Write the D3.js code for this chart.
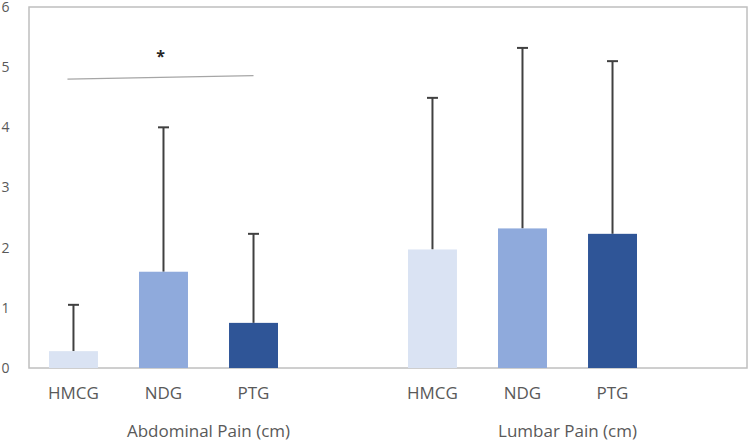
<!DOCTYPE html>
<html><head><meta charset="utf-8">
<script src="https://cdn.jsdelivr.net/npm/d3@7"></script>
<style>body{margin:0;background:#fff}svg{display:block}</style>
</head><body>
<script>
const categories = ["Abdominal Pain (cm)", "Lumbar Pain (cm)"];
const series = ["HMCG", "NDG", "PTG"];
const means = {
  "Abdominal Pain (cm)": [0.28, 1.60, 0.75],
  "Lumbar Pain (cm)": [1.97, 2.32, 2.23]
};
const errors = {
  "Abdominal Pain (cm)": [0.77, 2.40, 1.48],
  "Lumbar Pain (cm)": [2.52, 3.00, 2.87]
};
const colors = ["#dae3f3", "#8faadc", "#2f5597"];
const yTicks = [0, 1, 2, 3, 4, 5, 6];
const sigLine = {from: "HMCG", to: "PTG", y0: 4.80, y1: 4.86, label: "*", labelY: 5.24};

(function() {
const W = 749, H = 441;
const mLeft = 29, mRight = 747, mTop = 7, mBottom = 368;
const svg = d3.select("body").append("svg").attr("width", W).attr("height", H);
const font = "'Open Sans', 'Noto Sans', sans-serif";

const y = d3.scaleLinear().domain([0, 6]).range([mBottom, mTop]);
const x0 = d3.scaleBand().domain(categories).range([mLeft, mRight]).padding(0);
const x1 = d3.scaleBand().domain([...series, "_"]).range([0, x0.bandwidth()])
  .paddingInner(0.456).paddingOuter(0.222);

// frame
svg.append("rect").attr("x", mLeft).attr("y", mTop).attr("width", mRight - mLeft).attr("height", mBottom - mTop)
  .attr("fill", "none").attr("stroke", "#bfbfbf").attr("stroke-width", 1.5);

// y axis labels
const yAxis = d3.axisLeft(y).tickValues(yTicks).tickFormat(d3.format("d")).tickSize(0).tickPadding(0);
const gy = svg.append("g").attr("transform", `translate(${9.5},0)`).call(yAxis);
gy.select(".domain").remove();
gy.selectAll("text").attr("font-family", font).attr("font-size", 14).attr("fill", "#595959");

const groups = svg.selectAll("g.cat").data(categories).join("g").attr("class", "cat")
  .attr("transform", d => `translate(${x0(d)},0)`);

groups.each(function(cat) {
  const g = d3.select(this);
  series.forEach((s, i) => {
    const v = means[cat][i], e = errors[cat][i];
    const bx = x1(s), bw = x1.bandwidth(), cx = bx + bw / 2;
    g.append("line").attr("x1", cx).attr("x2", cx).attr("y1", y(v)).attr("y2", y(v + e))
      .attr("stroke", "#404040").attr("stroke-width", 2);
    g.append("line").attr("x1", cx - 5.5).attr("x2", cx + 5.5).attr("y1", y(v + e)).attr("y2", y(v + e))
      .attr("stroke", "#404040").attr("stroke-width", 2);
    g.append("rect").attr("x", bx).attr("width", bw).attr("y", y(v)).attr("height", y(0) - y(v))
      .attr("fill", colors[i]);
    g.append("text").attr("x", cx).attr("y", 399).attr("text-anchor", "middle")
      .attr("font-family", font).attr("font-size", 17).attr("fill", "#595959").text(s);
  });
  g.append("text").attr("x", x0.bandwidth() / 2).attr("y", 437).attr("text-anchor", "middle")
    .attr("font-family", font).attr("font-size", 17).attr("fill", "#595959").text(cat);
});

// significance marker
const c0 = categories[0];
const sx0 = x0(c0) + x1(sigLine.from) + x1.bandwidth() / 2 - 6;
const sx1 = x0(c0) + x1(sigLine.to) + x1.bandwidth() / 2;
svg.append("line").attr("x1", sx0).attr("x2", sx1).attr("y1", y(sigLine.y0)).attr("y2", y(sigLine.y1))
  .attr("stroke", "#a6a6a6").attr("stroke-width", 1.2);
svg.append("text").attr("x", (sx0 + sx1) / 2).attr("y", y(sigLine.labelY)).attr("dy", "0.55em")
  .attr("text-anchor", "middle").attr("font-family", font).attr("font-weight", "bold")
  .attr("font-size", 16).attr("fill", "#262626").text(sigLine.label);
})();
</script>
</body></html>
